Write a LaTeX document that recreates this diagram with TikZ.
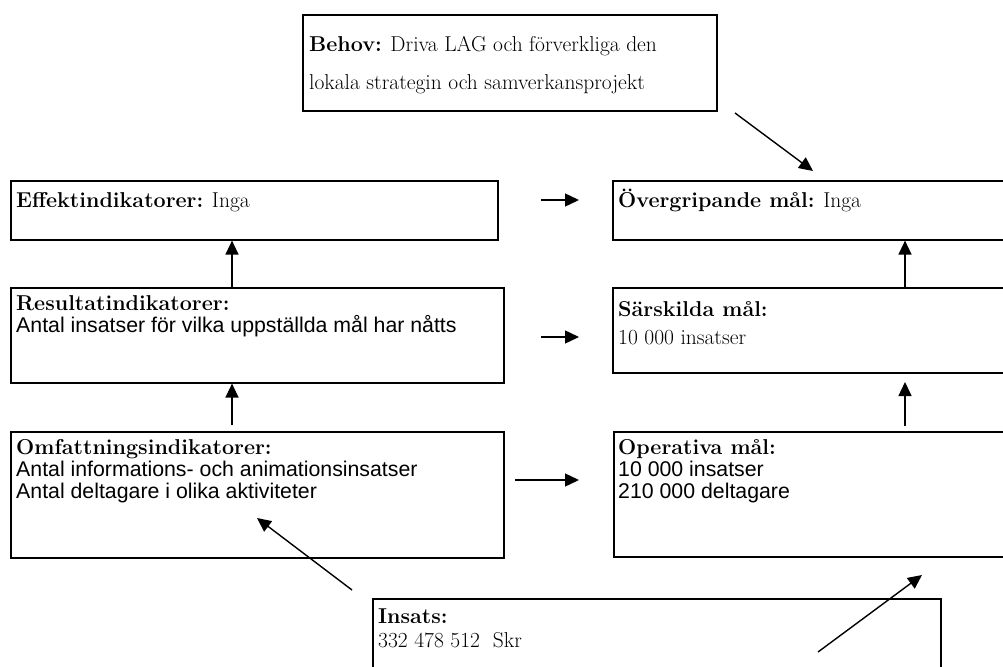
\documentclass[tikz,border=0pt]{standalone}
\usepackage{fontspec}
\newfontfamily\arialf{Liberation Sans}
\usetikzlibrary{arrows.meta}
\tikzset{
  box/.style={draw, line width=1.6pt, inner sep=0pt, anchor=north west},
  ser/.style={anchor=base west, inner sep=0pt, font=\fontsize{21.5}{24}\selectfont},
  san/.style={anchor=base west, inner sep=0pt, font=\arialf\fontsize{21.3}{24}\selectfont},
  arr/.style={line width=1.4pt, -{Triangle[length=14pt,width=13pt]}}
}
\begin{document}
\begin{tikzpicture}[x=1pt,y=-1pt]
\useasboundingbox (0,0) rectangle (1003,666);
\clip (0,0) rectangle (1003,666);
% boxes
\node[box, minimum width=414pt, minimum height=96pt] (behov) at (302,14) {};
\node[box, minimum width=487pt, minimum height=59pt] (eff) at (10,180) {};
\node[box, minimum width=493pt, minimum height=95pt] (res) at (10,287) {};
\node[box, minimum width=493pt, minimum height=126pt] (omf) at (10,431) {};
\node[box, minimum width=568pt, minimum height=80pt] (ins) at (372,598) {};
\node[box, minimum width=400pt, minimum height=59pt] (over) at (612,180) {};
\node[box, minimum width=400pt, minimum height=85pt] (sar) at (612,287) {};
\node[box, minimum width=400pt, minimum height=125pt] (oper) at (613,431) {};
% texts
\node[ser] (t1) at (309,52) {\textbf{Behov:} Driva LAG och förverkliga den};
\node[ser] (t2) at (309,90) {lokala strategin och samverkansprojekt};
\node[ser] (t3) at (16,207) {\textbf{Effektindikatorer:} Inga};
\node[ser] (t4) at (618,207) {\textbf{Övergripande mål:} Inga};
\node[ser] (t5) at (16,310) {\textbf{Resultatindikatorer:}};
\node[san] (t6) at (16,332) {Antal insatser för vilka uppställda mål har nåtts};
\node[ser] (t7) at (618,316) {\textbf{Särskilda mål:}};
\node[ser] (t8) at (618,344) {10 000 insatser};
\node[ser] (t9) at (16,454) {\textbf{Omfattningsindikatorer:}};
\node[san] (t10) at (16,476) {Antal informations- och animationsinsatser};
\node[san] (t11) at (16,498) {Antal deltagare i olika aktiviteter};
\node[ser] (t12) at (618,454) {\textbf{Operativa mål:}};
\node[san] (t13) at (618,476) {10 000 insatser};
\node[san] (t14) at (618,498) {210 000 deltagare};
\node[ser] (t15) at (378,623) {\textbf{Insats:}};
\node[ser] (t16) at (378,647) {332 478 512\ \ Skr};
% arrow endpoints
\coordinate (a1s) at (735,113);
\coordinate (a1e) at (813,171);
\coordinate (a2s) at (541,200);
\coordinate (a2e) at (579,200);
\coordinate (a3s) at (541,337);
\coordinate (a3e) at (579,337);
\coordinate (a4s) at (515,480);
\coordinate (a4e) at (579,480);
\coordinate (a5s) at (232,425);
\coordinate (a6s) at (905,426);
\coordinate (a6e) at (905,382);
\coordinate (a7s) at (352,590);
\coordinate (a7e) at (257,518);
\coordinate (a8s) at (818,652);
\coordinate (a8e) at (922,575);
% arrows
\draw[arr] (a1s) -- (a1e);
\draw[arr] (a2s) -- (a2e);
\draw[arr] (a3s) -- (a3e);
\draw[arr] (a4s) -- (a4e);
\draw[arr] (res.north -| a5s) -- (eff.south -| a5s);
\draw[arr] (a5s) -- (res.south -| a5s);
\draw[arr] (sar.north -| a6s) -- (over.south -| a6s);
\draw[arr] (a6s) -- (a6e);
\draw[arr] (a7s) -- (a7e);
\draw[arr] (a8s) -- (a8e);
\end{tikzpicture}
\end{document}
